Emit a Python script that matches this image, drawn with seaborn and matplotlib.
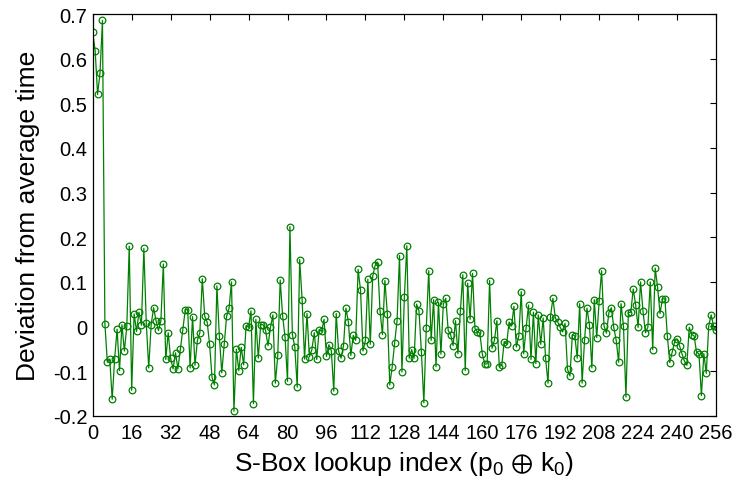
import numpy as np
import pandas as pd
import seaborn as sns
import matplotlib.pyplot as plt

# deviation per S-Box lookup index
deviation = [
    0.659, 0.618, 0.52, 0.569, 0.686,
    0.006, -0.08, -0.073, -0.163, -0.073, -0.006, -0.099, 0.004, -0.055, 0.0,
    0.18, -0.143, 0.028, -0.011, 0.032, 0.003, 0.175, 0.007, -0.093, 0.004,
    0.042, 0.013, -0.009, 0.013, 0.14, -0.074, -0.014, -0.071,
    -0.095, -0.059, -0.095, -0.051, -0.009, 0.037, 0.038, -0.093, 0.022, -0.087,
    -0.031, -0.014, 0.107, 0.023, 0.01, -0.04, -0.114, -0.131, 0.091, -0.021,
    -0.104, -0.04, 0.023, 0.041, 0.1, -0.19, -0.051, -0.099, -0.047, -0.086,
    0.002, -0.002, 0.035,
    -0.173, 0.016, -0.071, 0.004, 0.004, -0.009, -0.043, -0.002, 0.026, -0.127,
    -0.065, 0.104, 0.023, -0.024, -0.123, 0.224, -0.018, -0.046, -0.136, 0.15,
    0.06, -0.073, 0.029, -0.068, -0.052, -0.014, -0.074, -0.007, -0.011, 0.016,
    -0.067, -0.041, -0.054,
    -0.145, 0.029, -0.056, -0.071, -0.043, 0.041, 0.01, -0.065, -0.02, -0.031,
    0.128, 0.081, -0.055, -0.031, 0.106, -0.04, 0.113, 0.137, 0.144, 0.035,
    -0.018, 0.103, 0.029, -0.131, -0.09, -0.037, 0.013, 0.159, -0.102, 0.066,
    0.181, -0.071,
    -0.052, -0.071, 0.05, 0.035, -0.058, -0.171, -0.003, 0.125, -0.031, 0.06,
    -0.09, 0.054, -0.062, 0.05, 0.063, -0.009, -0.018, -0.043, 0.013, -0.061,
    0.035, 0.116, -0.099, 0.097, 0.016, 0.119, -0.005, -0.012, -0.015, -0.061,
    -0.084, -0.084, 0.103,
    -0.049, -0.031, 0.013, -0.09, -0.087, -0.034, -0.04, 0.01, 0.001, 0.045,
    -0.046, -0.021, 0.078, -0.061, -0.003, 0.048, -0.074, 0.032, -0.083, 0.026,
    -0.04, 0.019, -0.071, -0.127, 0.022, 0.063, 0.019, 0.01, -0.002, -0.012,
    0.007, -0.096, -0.111,
    -0.018, -0.021, -0.071, 0.051, -0.127, -0.031, 0.041, 0.004, -0.093, 0.06,
    -0.025, 0.056, 0.125, 0.001, -0.015, 0.031, 0.042, -0.002, -0.031, -0.08,
    0.051, 0.0, -0.158, 0.031, 0.032, 0.084, 0.048, -0.002, 0.1, 0.035,
    -0.014, -0.002, 0.1,
    -0.052, 0.131, 0.088, 0.029, 0.062, 0.062, -0.021, -0.081, -0.058, -0.034,
    -0.028, -0.043, -0.061, -0.077, -0.087, -0.002, -0.018, -0.021, -0.058, -0.061,
    -0.155, -0.061, -0.105, 0.001, 0.026, 0.001, -0.009,
]
index = list(range(len(deviation)))

xticks = list(range(0, 257, 16))
yticks = [-0.2, -0.1, 0, 0.1, 0.2, 0.3, 0.4, 0.5, 0.6, 0.7]
ytick_labels = ['-0.2', '-0.1', '0', '0.1', '0.2', '0.3', '0.4', '0.5', '0.6', '0.7']

df = pd.DataFrame({'index': index, 'deviation': deviation})

sns.set_style("white")
plt.rcParams['font.family'] = ['Liberation Sans', 'DejaVu Sans']
plt.rcParams['mathtext.fontset'] = 'custom'
plt.rcParams['mathtext.rm'] = 'Liberation Sans'
plt.rcParams['mathtext.default'] = 'regular'
plt.rcParams['text.color'] = 'black'
plt.rcParams['axes.labelcolor'] = 'black'

fig = plt.figure(figsize=(7.4, 4.85), dpi=100)
ax = fig.add_axes([0.1253, 0.1408, 0.8423, 0.828])

sns.lineplot(data=df, x='index', y='deviation', ax=ax, color='#008000',
             linewidth=0.9, marker='o', markersize=4.8, markerfacecolor='none',
             markeredgecolor='#008000', markeredgewidth=0.9)

ax.set_xlim(0, 256)
ax.set_ylim(-0.2, 0.7)
ax.set_xticks(xticks)
ax.set_xticklabels([str(t) for t in xticks])
ax.set_yticks(yticks)
ax.set_yticklabels(ytick_labels)
ax.tick_params(direction='in', length=4, width=0.8, top=True, right=True,
               labelsize=14.5, colors='black')
ax.tick_params(axis='x', pad=5)
ax.tick_params(axis='y', pad=4)
for s in ax.spines.values():
    s.set_color('black')
    s.set_linewidth(0.9)

ax.set_xlabel(r'S-Box lookup index (p$_0$ $\oplus$ k$_0$)', fontsize=19, labelpad=5)
ax.set_ylabel('Deviation from average time', fontsize=19, labelpad=9)

fig.savefig('out.png', dpi=100)
